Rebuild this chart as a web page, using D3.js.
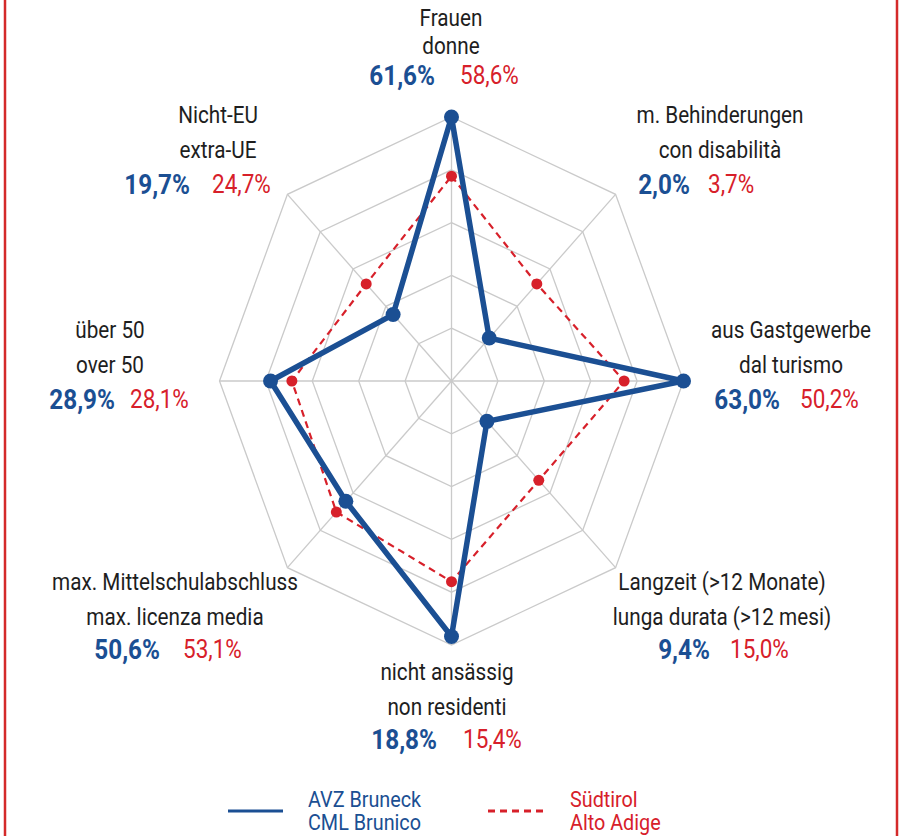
<!DOCTYPE html>
<html>
<head>
<meta charset="utf-8">
<script src="https://cdn.jsdelivr.net/npm/d3@7"></script>
<style>
  html, body { margin: 0; padding: 0; background: #fff; }
  svg { display: block; }
  .lbl text { font-family: Roboto, "Liberation Sans", sans-serif; }
</style>
</head>
<body>
<svg id="chart" width="902" height="836"></svg>
<script>
// axes, clockwise from the top
var axisLabelsDe = ["Frauen", "m. Behinderungen", "aus Gastgewerbe", "Langzeit (>12 Monate)",
                    "nicht ansässig", "max. Mittelschulabschluss", "über 50", "Nicht-EU"];
var axisLabelsIt = ["donne", "con disabilità", "dal turismo", "lunga durata (>12 mesi)",
                    "non residenti", "max. licenza media", "over 50", "extra-UE"];

// shown percentages
var avzValues = [61.6, 2.0, 63.0, 9.4, 18.8, 50.6, 28.9, 19.7];
var stValues  = [58.6, 3.7, 50.2, 15.0, 15.4, 53.1, 28.1, 24.7];

// plotted position on the 0..5 grid (each axis has its own scaling in the original)
var avzScore = [5.0, 1.15, 5.0, 1.08, 4.84, 3.22, 3.9, 1.78];
var stScore  = [3.88, 2.6, 3.72, 2.66, 3.8, 3.51, 3.44, 2.6];

var gridLevels = [1, 2, 3, 4, 5];

var legendNames = [["AVZ Bruneck", "CML Brunico"], ["Südtirol", "Alto Adige"]];

// styles
var BLUE = "#1b4f93";
var RED = "#d7202a";
var GRID = "#cacaca";
var TEXT = "#1e1e1e";
var NARROW = 0.9;   // squeeze Roboto towards a condensed face

// geometry
var CX = 451.5, CY = 381;
var RX = 232, RY = 264;

// label layout: centre x, y of the 3 rows, end of blue value, start of red value
var labelLayout = [
    {x: 451, y: [18, 46, 76],    be: 435, rs: 460},
    {x: 720, y: [115, 150, 185], be: 690, rs: 708},
    {x: 791, y: [330, 365, 400], be: 780, rs: 800},
    {x: 722, y: [582, 617, 650], be: 710, rs: 730},
    {x: 447, y: [672, 707, 740], be: 437, rs: 463},
    {x: 175, y: [582, 617, 650], be: 160, rs: 183},
    {x: 110, y: [330, 365, 400], be: 115, rs: 130},
    {x: 218, y: [115, 150, 185], be: 190, rs: 212}
];

var svg = d3.select("#chart");

var rx = d3.scaleLinear().domain([0, 5]).range([0, RX]);
var ry = d3.scaleLinear().domain([0, 5]).range([0, RY]);
var angle = d3.scaleLinear().domain([0, axisLabelsDe.length]).range([0, 2 * Math.PI]);

function px(i, v) { return CX + Math.sin(angle(i)) * rx(v); }
function py(i, v) { return CY - Math.cos(angle(i)) * ry(v); }

function pts(scores) {
    return scores.map(function(v, i) { return [px(i, v), py(i, v)]; });
}

var fmt = function(v) { return d3.format(".1f")(v).replace(".", ",") + "%"; };

// narrow text helper
function addText(g, x, y, str, size, color, anchor, weight) {
    return g.append("text")
        .attr("transform", "translate(" + x + "," + y + ") scale(" + NARROW + ",1)")
        .attr("text-anchor", anchor || "middle")
        .attr("dominant-baseline", "central")
        .attr("font-size", size)
        .attr("font-weight", weight || "normal")
        .attr("fill", color)
        .text(str);
}

// side borders
svg.selectAll("line.border")
    .data([5, 897])
    .enter()
    .append("line")
    .attr("class", "border")
    .attr("x1", function(d) { return d; })
    .attr("x2", function(d) { return d; })
    .attr("y1", 0)
    .attr("y2", 836)
    .attr("stroke", "#d42a2a")
    .attr("stroke-width", 2.5);

// grid rings
var line = d3.line().curve(d3.curveLinearClosed);
svg.append("g")
    .selectAll("path")
    .data(gridLevels)
    .enter()
    .append("path")
    .attr("d", function(lv) { return line(axisLabelsDe.map(function(d, i) { return [px(i, lv), py(i, lv)]; })); })
    .attr("fill", "none")
    .attr("stroke", GRID)
    .attr("stroke-width", 1.3);

// spokes
svg.append("g")
    .selectAll("line")
    .data(axisLabelsDe)
    .enter()
    .append("line")
    .attr("x1", CX)
    .attr("y1", CY)
    .attr("x2", function(d, i) { return px(i, 5); })
    .attr("y2", function(d, i) { return py(i, 5); })
    .attr("stroke", GRID)
    .attr("stroke-width", 1.3);

// Südtirol (dashed)
svg.append("path")
    .attr("d", line(pts(stScore)))
    .attr("fill", "none")
    .attr("stroke", RED)
    .attr("stroke-width", 2.2)
    .attr("stroke-dasharray", "7,5");

// AVZ Bruneck (solid)
svg.append("path")
    .attr("d", line(pts(avzScore)))
    .attr("fill", "none")
    .attr("stroke", BLUE)
    .attr("stroke-width", 5.5)
    .attr("stroke-linejoin", "round");

svg.append("g")
    .selectAll("circle")
    .data(pts(stScore))
    .enter()
    .append("circle")
    .attr("cx", function(d) { return d[0]; })
    .attr("cy", function(d) { return d[1]; })
    .attr("r", 5.5)
    .attr("fill", RED);

svg.append("g")
    .selectAll("circle")
    .data(pts(avzScore))
    .enter()
    .append("circle")
    .attr("cx", function(d) { return d[0]; })
    .attr("cy", function(d) { return d[1]; })
    .attr("r", 7.5)
    .attr("fill", BLUE);

// labels
var labels = svg.append("g").attr("class", "lbl");
axisLabelsDe.forEach(function(name, i) {
    var L = labelLayout[i];
    addText(labels, L.x, L.y[0], name, 23, TEXT);
    addText(labels, L.x, L.y[1], axisLabelsIt[i], 23, TEXT);
    addText(labels, L.be, L.y[2], fmt(avzValues[i]), 27, BLUE, "end", "bold");
    addText(labels, L.rs, L.y[2], fmt(stValues[i]), 25, RED, "start");
});

// legend
var legend = svg.append("g").attr("class", "lbl");
legend.append("line")
    .attr("x1", 228).attr("x2", 283).attr("y1", 811).attr("y2", 811)
    .attr("stroke", BLUE).attr("stroke-width", 3);
legend.append("line")
    .attr("x1", 488).attr("x2", 548).attr("y1", 811).attr("y2", 811)
    .attr("stroke", RED).attr("stroke-width", 3).attr("stroke-dasharray", "7,5");

var legendX = [308, 570];
var legendColors = [BLUE, RED];
legendNames.forEach(function(names, k) {
    names.forEach(function(n, j) {
        addText(legend, legendX[k], 800 + j * 23, n, 22, legendColors[k], "start");
    });
});
</script>
</body>
</html>
